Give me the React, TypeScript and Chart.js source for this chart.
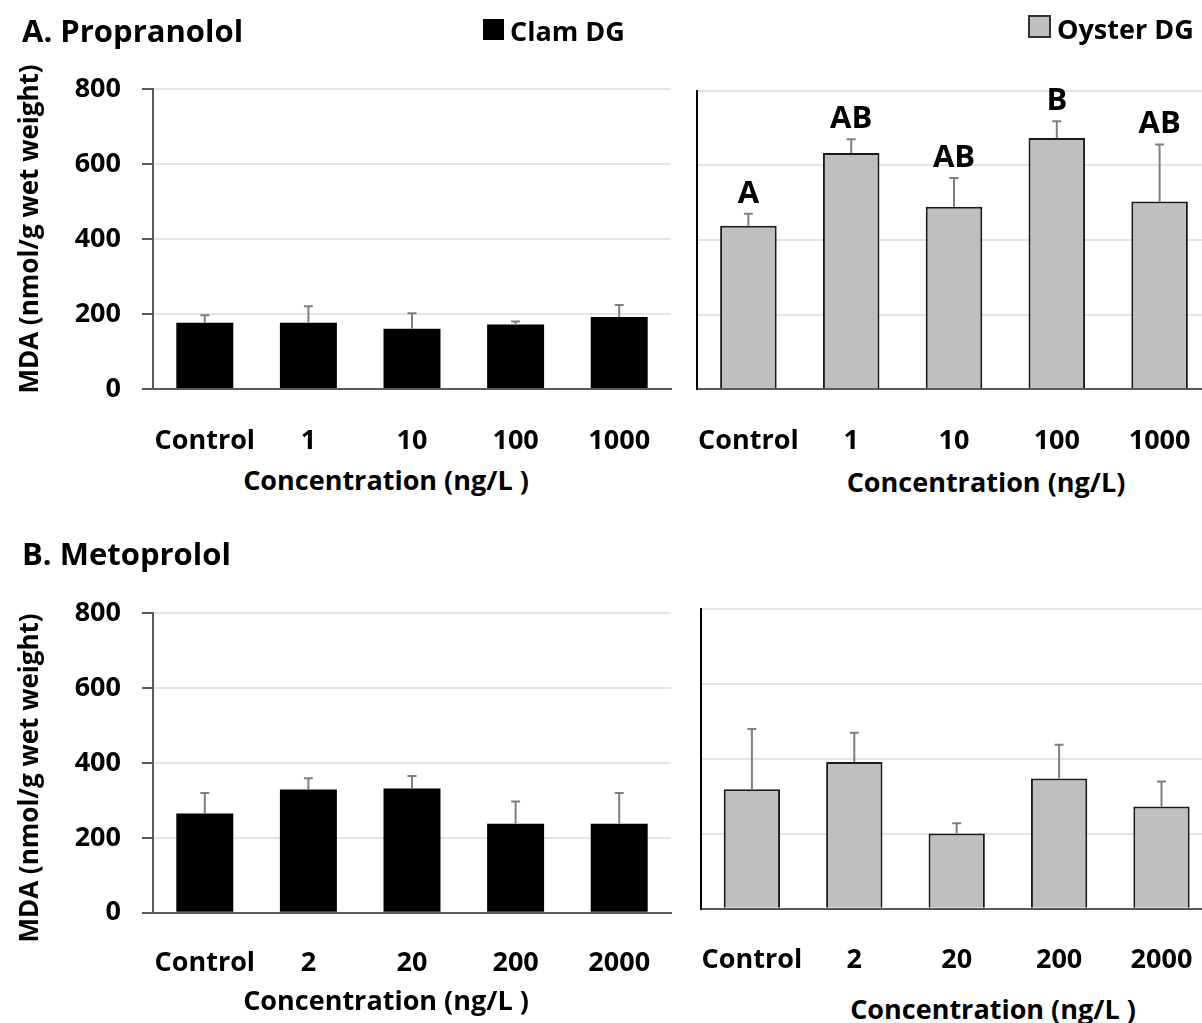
import React, { useEffect, useRef } from 'react';
import { Chart, registerables } from 'chart.js';

Chart.register(...registerables);

// ---------- data ----------
const propranololLabels = ['Control', '1', '10', '100', '1000'];
const metoprololLabels = ['Control', '2', '20', '200', '2000'];

const clamPropranolol = [177, 177, 161, 172, 192];
const clamPropranololErr = [20, 44, 41, 8, 32];

const oysterPropranolol = [438, 633, 489, 673, 503];
const oysterPropranololErr = [32, 37, 77, 45, 153];
const oysterPropranololLetters = ['A', 'AB', 'AB', 'B', 'AB'];

const clamMetoprolol = [265, 329, 332, 238, 238];
const clamMetoprololErr = [55, 30, 33, 59, 82];

const oysterMetoprolol = [319, 392, 201, 348, 273];
const oysterMetoprololErr = [161, 78, 27, 90, 67];

const yMin = 0;
const yMax = 800;
const yStep = 200;

// ---------- styling ----------
const FONT = '"Open Sans"';
const CLAM_FILL = '#000000';
const OYSTER_FILL = '#bfbfbf';
const TICK_SIZE = 27;

const errorBarPlugin = {
  id: 'errorBars',
  afterDatasetsDraw(chart: any, _args: any, opts: any) {
    const meta = chart.getDatasetMeta(0);
    const y = chart.scales.y;
    const ctx = chart.ctx;
    const vals = chart.data.datasets[0].data as number[];
    const errs: number[] = opts.errors || [];
    const letters: string[] | undefined = opts.letters;
    ctx.save();
    meta.data.forEach((bar: any, i: number) => {
      const top = y.getPixelForValue(vals[i] + errs[i]);
      const base = y.getPixelForValue(vals[i]);
      ctx.strokeStyle = '#7f7f7f';
      ctx.lineWidth = 2;
      ctx.beginPath();
      ctx.moveTo(bar.x, base);
      ctx.lineTo(bar.x, top);
      ctx.moveTo(bar.x - 4.5, top);
      ctx.lineTo(bar.x + 4.5, top);
      ctx.stroke();
      if (letters && letters[i]) {
        ctx.fillStyle = '#000';
        ctx.font = `bold 31px ${FONT}`;
        ctx.textAlign = 'center';
        ctx.textBaseline = 'alphabetic';
        ctx.fillText(letters[i], bar.x, top - 11);
      }
    });
    ctx.restore();
  },
};

type Area = { l: number; t: number; r: number; b: number };
type PanelProps = {
  labels: string[];
  values: number[];
  errors: number[];
  letters?: string[];
  fill: string;
  border: string;
  borderWidth: number;
  showYLabels: boolean;
  yBorderColor: string;
  left: number;
  top: number;
  width: number;
  height: number;
  area: Area;
  labelY: number;
};

function Panel(p: PanelProps) {
  const ref = useRef<HTMLCanvasElement>(null);
  useEffect(() => {
    const padTop = p.area.t - p.top;
    const padRight = p.left + p.width - p.area.r;
    const yWidth = p.area.l - p.left;
    const xHeight = p.top + p.height - p.area.b;
    const xPad = p.labelY - p.area.b - (TICK_SIZE * 1.2) / 2;
    const chart = new Chart(ref.current as HTMLCanvasElement, {
      type: 'bar',
      data: {
        labels: p.labels,
        datasets: [
          {
            data: p.values,
            backgroundColor: p.fill,
            borderColor: p.border,
            borderWidth: p.borderWidth,
            categoryPercentage: 1,
            barPercentage: 0.55,
          },
        ],
      },
      options: {
        responsive: false,
        animation: false,
        events: [],
        layout: { padding: { top: padTop, right: padRight, left: 0, bottom: 0 } },
        plugins: {
          legend: { display: false },
          tooltip: { enabled: false },
          errorBars: { errors: p.errors, letters: p.letters },
        } as any,
        scales: {
          x: {
            grid: { display: false },
            border: { color: '#595959', width: 2 },
            ticks: {
              color: '#000',
              font: { family: FONT, size: TICK_SIZE, weight: 'bold' },
              padding: xPad,
              maxRotation: 0,
              autoSkip: false,
            },
            afterFit: (s: any) => {
              s.height = xHeight;
            },
          },
          y: {
            min: yMin,
            max: yMax,
            ticks: {
              stepSize: yStep,
              display: p.showYLabels,
              color: '#000',
              padding: 21,
              font: { family: FONT, size: TICK_SIZE, weight: 'bold' },
            },
            grid: {
              color: '#e4e4e4',
              lineWidth: 2,
              drawTicks: p.showYLabels,
              tickLength: 11,
              tickColor: '#595959',
              tickWidth: 2,
            },
            border: { color: p.yBorderColor, width: 2 },
            afterFit: (s: any) => {
              s.width = yWidth;
            },
          },
        },
      } as any,
      plugins: [errorBarPlugin],
    });
    return () => chart.destroy();
  }, []);
  return (
    <canvas
      ref={ref}
      width={p.width}
      height={p.height}
      style={{ position: 'absolute', left: p.left, top: p.top, width: p.width, height: p.height }}
    />
  );
}

const textBase: React.CSSProperties = {
  position: 'absolute',
  whiteSpace: 'nowrap',
  fontFamily: FONT,
  fontWeight: 'bold',
  lineHeight: 1,
  color: '#000',
};

function Txt(props: { x: number; y: number; size: number; children: React.ReactNode; center?: boolean; rotate?: boolean }) {
  const { x, y, size, center, rotate } = props;
  let transform = center ? 'translate(-50%, -50%)' : 'translate(0, -50%)';
  if (rotate) transform = 'translate(-50%, -50%) rotate(-90deg)';
  return (
    <div style={{ ...textBase, left: x, top: y, fontSize: size, transform }}>{props.children}</div>
  );
}

export default function App() {
  return (
    <div
      style={{
        position: 'fixed',
        left: 0,
        top: 0,
        width: 1202,
        height: 1023,
        overflow: 'hidden',
        background: '#fff',
      }}
    >
      <Panel
        labels={propranololLabels}
        values={clamPropranolol}
        errors={clamPropranololErr}
        fill={CLAM_FILL}
        border={CLAM_FILL}
        borderWidth={0}
        showYLabels={true}
        yBorderColor="#595959"
        left={0}
        top={40}
        width={690}
        height={420}
        area={{ l: 153, t: 89, r: 671, b: 389 }}
        labelY={433}
      />
      <Panel
        labels={propranololLabels}
        values={oysterPropranolol}
        errors={oysterPropranololErr}
        letters={oysterPropranololLetters}
        fill={OYSTER_FILL}
        border="#1a1a1a"
        borderWidth={2}
        showYLabels={false}
        yBorderColor="#000"
        left={650}
        top={40}
        width={580}
        height={420}
        area={{ l: 697, t: 90.7, r: 1211, b: 389.3 }}
        labelY={433}
      />
      <Panel
        labels={metoprololLabels}
        values={clamMetoprolol}
        errors={clamMetoprololErr}
        fill={CLAM_FILL}
        border={CLAM_FILL}
        borderWidth={0}
        showYLabels={true}
        yBorderColor="#595959"
        left={0}
        top={565}
        width={690}
        height={420}
        area={{ l: 153, t: 613.3, r: 671, b: 912.7 }}
        labelY={955}
      />
      <Panel
        labels={metoprololLabels}
        values={oysterMetoprolol}
        errors={oysterMetoprololErr}
        fill={OYSTER_FILL}
        border="#1a1a1a"
        borderWidth={2}
        showYLabels={false}
        yBorderColor="#000"
        left={650}
        top={565}
        width={580}
        height={420}
        area={{ l: 700.7, t: 609.3, r: 1212.7, b: 908.7 }}
        labelY={952}
      />

      <Txt x={22} y={30} size={31}>A. Propranolol</Txt>
      <Txt x={22} y={553} size={31}>B. Metoprolol</Txt>

      <div style={{ position: 'absolute', left: 483, top: 19, width: 21, height: 21, background: CLAM_FILL }} />
      <Txt x={510} y={30} size={27}>Clam DG</Txt>
      <div
        style={{
          position: 'absolute',
          left: 1028,
          top: 15,
          width: 19,
          height: 19,
          background: OYSTER_FILL,
          border: '2px solid #333',
        }}
      />
      <Txt x={1057} y={28} size={27}>Oyster DG</Txt>

      <Txt x={28} y={229} size={26} rotate>MDA (nmol/g wet weight)</Txt>
      <Txt x={28} y={778} size={26} rotate>MDA (nmol/g wet weight)</Txt>

      <Txt x={386} y={479} size={27} center>Concentration (ng/L )</Txt>
      <Txt x={986} y={481} size={27} center>Concentration (ng/L)</Txt>
      <Txt x={386} y={999} size={27} center>Concentration (ng/L )</Txt>
      <Txt x={993} y={1008} size={27} center>Concentration (ng/L )</Txt>
    </div>
  );
}
